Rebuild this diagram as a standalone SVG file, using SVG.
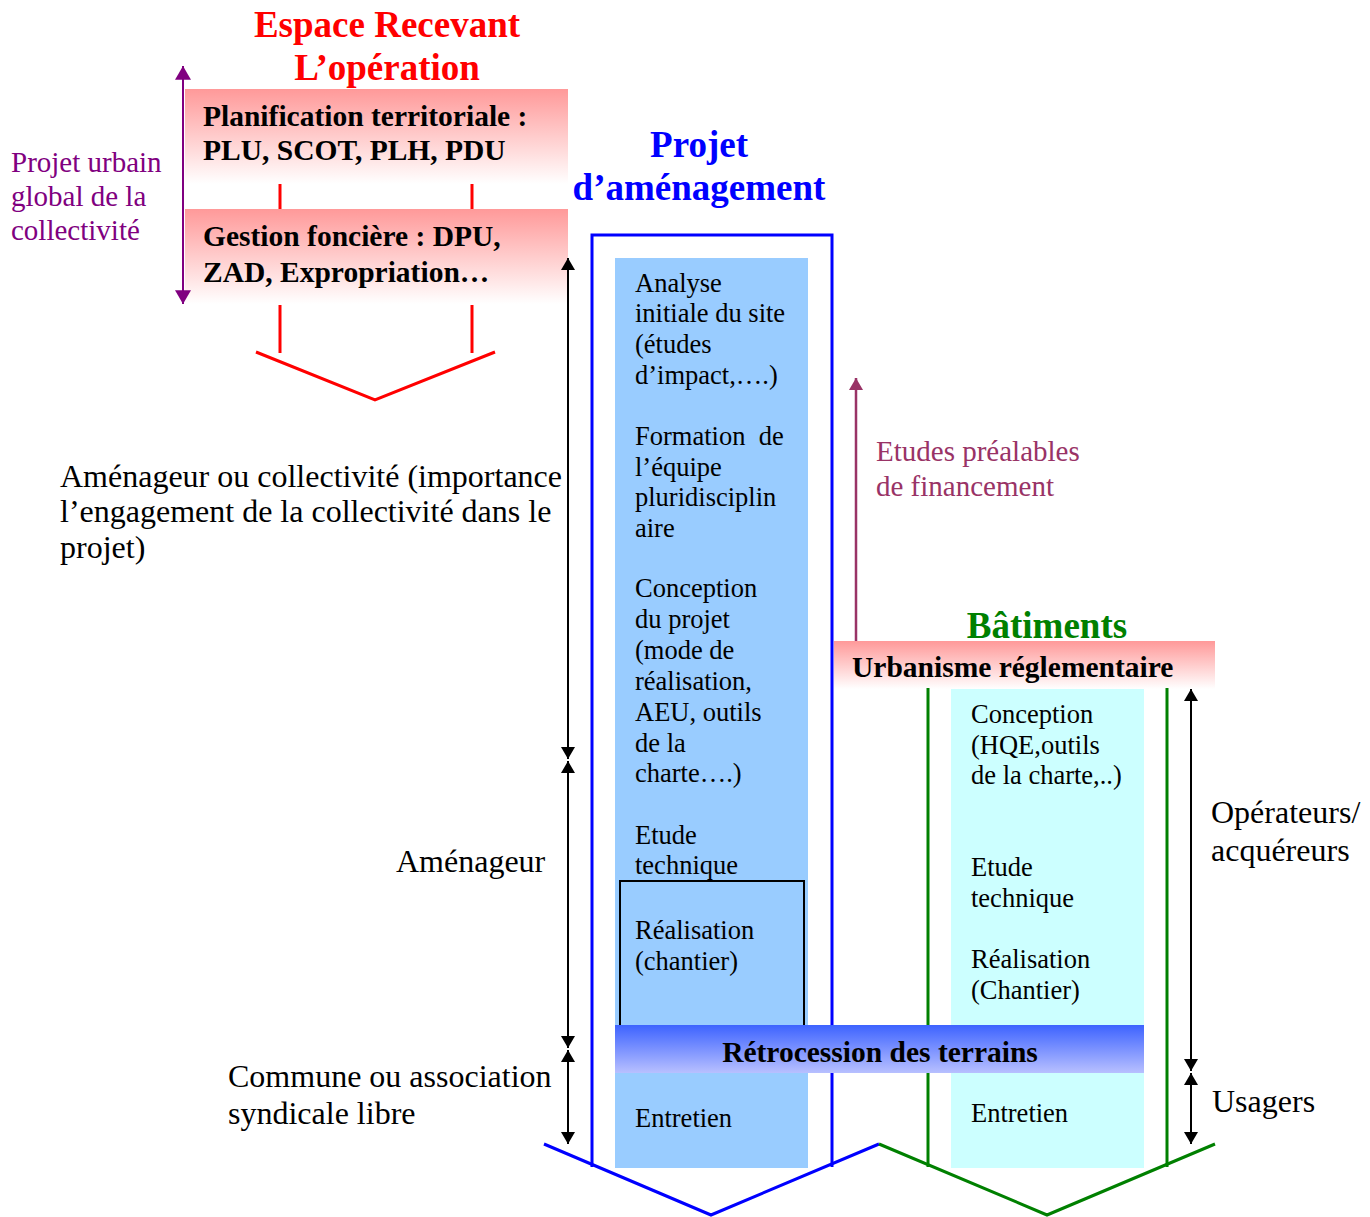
<svg xmlns="http://www.w3.org/2000/svg" width="1370" height="1217" viewBox="0 0 1370 1217">
<defs>
<linearGradient id="pink" x1="0" y1="0" x2="0" y2="1"><stop offset="0" stop-color="#FF9999"/><stop offset="1" stop-color="#FFFFFF"/></linearGradient>
<linearGradient id="retro" x1="0" y1="0" x2="0" y2="1"><stop offset="0" stop-color="#3D63FF"/><stop offset="1" stop-color="#B8C0FF"/></linearGradient>
<marker id="ab" viewBox="0 0 12 14" refX="12" refY="7" markerWidth="12" markerHeight="14" markerUnits="userSpaceOnUse" orient="auto-start-reverse"><path d="M0,0 L12,7 L0,14 z" fill="#000"/></marker>
<marker id="ap" viewBox="0 0 12 14" refX="12" refY="7" markerWidth="14" markerHeight="16" markerUnits="userSpaceOnUse" orient="auto-start-reverse"><path d="M0,0 L12,7 L0,14 z" fill="#800080"/></marker>
<marker id="am" viewBox="0 0 12 14" refX="12" refY="7" markerWidth="14" markerHeight="14" markerUnits="userSpaceOnUse" orient="auto"><path d="M0,0 L12,7 L0,14 z" fill="#993366"/></marker>
</defs>
<style>
.t{font-family:"Liberation Serif","Times New Roman",serif;}
.bx{font-size:26.5px;fill:#000;}
.lb{font-size:32px;fill:#000;}
.bd{font-size:29.5px;font-weight:bold;fill:#000;}
.ti{font-size:37px;font-weight:bold;}
.dbl{stroke:#000;stroke-width:2;fill:none;marker-start:url(#ab);marker-end:url(#ab);}
</style>
<rect width="1370" height="1217" fill="#fff"/>

<g id="title-espace" class="t">
<text class="ti" x="387" y="37" text-anchor="middle" fill="#FF0000">Espace Recevant</text>
<text class="ti" x="387" y="80" text-anchor="middle" fill="#FF0000">L’opération</text>
</g>

<g id="planification">
<rect x="185" y="89" width="383" height="95" fill="url(#pink)"/>
<text class="t bd" x="203" y="126">Planification territoriale :</text>
<text class="t bd" x="203" y="160">PLU, SCOT, PLH, PDU</text>
</g>
<g id="gestion">
<rect x="185" y="209" width="383" height="95" fill="url(#pink)"/>
<text class="t bd" x="203" y="246">Gestion foncière : DPU,</text>
<text class="t bd" x="203" y="282">ZAD, Expropriation…</text>
</g>
<g id="red-shape" stroke="#FF0000" stroke-width="3" fill="none">
<line x1="280" y1="184" x2="280" y2="209"/>
<line x1="472" y1="184" x2="472" y2="209"/>
<line x1="280" y1="305" x2="280" y2="353"/>
<line x1="472" y1="305" x2="472" y2="353"/>
<polyline points="256,352 375,400 495,352"/>
</g>

<g id="projet-urbain" class="t">
<text x="11" y="172" font-size="29" fill="#800080">Projet urbain</text>
<text x="11" y="206" font-size="29" fill="#800080">global de la</text>
<text x="11" y="240" font-size="29" fill="#800080">collectivité</text>
</g>

<g id="title-projet" class="t">
<text class="ti" x="699" y="157" text-anchor="middle" fill="#0000FF">Projet</text>
<text class="ti" x="699" y="200" text-anchor="middle" fill="#0000FF">d’aménagement</text>
</g>

<g id="projet-column">
<rect x="615" y="258" width="193" height="910" fill="#99CCFF"/>
<rect x="620" y="881" width="184" height="146" fill="none" stroke="#000" stroke-width="2"/>
<g class="t bx">
<text x="635" y="292">Analyse</text>
<text x="635" y="322">initiale du site</text>
<text x="635" y="353">(études</text>
<text x="635" y="384">d’impact,….)</text>
<text x="635" y="445" xml:space="preserve">Formation  de</text>
<text x="635" y="476">l’équipe</text>
<text x="635" y="506">pluridisciplin</text>
<text x="635" y="537">aire</text>
<text x="635" y="597">Conception</text>
<text x="635" y="628">du projet</text>
<text x="635" y="659">(mode de</text>
<text x="635" y="690">réalisation,</text>
<text x="635" y="721">AEU, outils</text>
<text x="635" y="752">de la</text>
<text x="635" y="782">charte….)</text>
<text x="635" y="844">Etude</text>
<text x="635" y="874">technique</text>
<text x="635" y="939">Réalisation</text>
<text x="635" y="970">(chantier)</text>
<text x="635" y="1127">Entretien</text>
</g>
</g>

<g id="batiments-column">
<rect x="951" y="688" width="193" height="480" fill="#CCFFFF"/>
<g class="t bx">
<text x="971" y="723">Conception</text>
<text x="971" y="754">(HQE,outils</text>
<text x="971" y="784">de la charte,..)</text>
<text x="971" y="876">Etude</text>
<text x="971" y="907">technique</text>
<text x="971" y="968">Réalisation</text>
<text x="971" y="999">(Chantier)</text>
<text x="971" y="1122">Entretien</text>
</g>
</g>

<g id="title-batiments" class="t">
<text class="ti" x="1047" y="638" text-anchor="middle" fill="#008000">Bâtiments</text>
</g>
<g id="urbanisme">
<rect x="834" y="641" width="381" height="48" fill="url(#pink)"/>
<text class="t bd" x="852" y="677">Urbanisme réglementaire</text>
</g>

<g id="retrocession">
<rect x="615" y="1025" width="529" height="48" fill="url(#retro)"/>
<text class="t bd" x="880" y="1062" text-anchor="middle">Rétrocession des terrains</text>
</g>

<g id="etudes-prealables" class="t">
<text x="876" y="461" font-size="29" fill="#993366">Etudes préalables</text>
<text x="876" y="496" font-size="29" fill="#993366">de financement</text>
</g>

<g id="left-labels" class="t lb">
<text x="60" y="487">Aménageur ou collectivité (importance</text>
<text x="60" y="522">l’engagement de la collectivité dans le</text>
<text x="60" y="558">projet)</text>
<text x="396" y="872">Aménageur</text>
<text x="228" y="1087">Commune ou association</text>
<text x="228" y="1124">syndicale libre</text>
</g>
<g id="right-labels" class="t lb">
<text x="1211" y="823">Opérateurs/</text>
<text x="1211" y="861">acquéreurs</text>
<text x="1212" y="1112">Usagers</text>
</g>

<g id="connectors">
<g stroke="#0000FF" stroke-width="3" fill="none">
<polyline points="592,1167 592,235 832,235 832,1025"/>
<line x1="832" y1="1073" x2="832" y2="1167"/>
<polyline points="544,1144 711,1215 879,1144"/>
</g>
<g stroke="#008000" stroke-width="3" fill="none">
<line x1="928" y1="688" x2="928" y2="1025"/>
<line x1="928" y1="1073" x2="928" y2="1167"/>
<line x1="1167" y1="688" x2="1167" y2="1167"/>
<polyline points="879,1144 1047,1215 1215,1144"/>
</g>
<line x1="183" y1="66" x2="183" y2="304" stroke="#800080" stroke-width="2" marker-start="url(#ap)" marker-end="url(#ap)"/>
<line x1="856" y1="641" x2="856" y2="378" stroke="#993366" stroke-width="2.5" marker-end="url(#am)"/>
<line class="dbl" x1="568" y1="258" x2="568" y2="759"/>
<line class="dbl" x1="568" y1="761" x2="568" y2="1048"/>
<line class="dbl" x1="568" y1="1050" x2="568" y2="1144"/>
<line class="dbl" x1="1191" y1="689" x2="1191" y2="1071"/>
<line class="dbl" x1="1191" y1="1073" x2="1191" y2="1144"/>
</g>
</svg>
